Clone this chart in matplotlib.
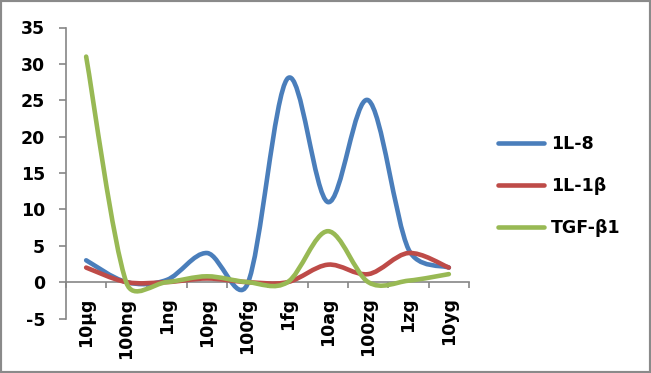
import numpy as np
import matplotlib
matplotlib.use("Agg")
import matplotlib.pyplot as plt
from matplotlib.path import Path
from matplotlib.patches import PathPatch, Rectangle
from matplotlib.lines import Line2D

plt.rcParams["font.family"] = ["DejaVu Sans"]
plt.rcParams["font.weight"] = "bold"
plt.rcParams["axes.unicode_minus"] = False

doses = ["10µg", "100ng", "1ng", "10pg", "100fg", "1fg", "10ag", "100zg", "1zg", "10yg"]
il8 = [3, 0, 0.3, 4, -0.3, 28, 11, 25, 4.5, 2]
il1b = [2, 0, 0, 0.5, 0, 0, 2.4, 1.1, 4, 2]
tgfb1 = [31, -0.1, 0, 0.8, 0, 0, 7, 0, 0.2, 1.1]

series = [("1L-8", il8, "#4a7ebb"), ("1L-1β", il1b, "#be4b48"), ("TGF-β1", tgfb1, "#98b954")]
axis_grey = "#868686"


def smooth_path(ax, xs, ys):
    # excel-ish smoothing: cubic bezier, tangent 1/6 of chord, capped at half segment
    tr = ax.transData
    pts = tr.transform(np.column_stack([xs, ys]).astype(float))
    n = len(pts)
    verts = [pts[0]]
    codes = [Path.MOVETO]
    for i in range(n - 1):
        p0 = pts[max(i - 1, 0)]
        p1 = pts[i]
        p2 = pts[i + 1]
        p3 = pts[min(i + 2, n - 1)]
        half = np.hypot(*(p2 - p1)) / 2
        t1 = (p2 - p0) / 6
        t2 = (p3 - p1) / 6
        if np.hypot(*t1) > half:
            t1 = t1 * half / np.hypot(*t1)
        if np.hypot(*t2) > half:
            t2 = t2 * half / np.hypot(*t2)
        verts += [p1 + t1, p2 - t2, p2]
        codes += [Path.CURVE4] * 3
    verts = tr.inverted().transform(np.array(verts))
    return Path(verts, codes)


fig = plt.figure(figsize=(6.51, 3.73), dpi=100)
ax = fig.add_axes([66 / 651, 1 - 318.5 / 373, 403 / 651, 291 / 373])
ax.set_xlim(-0.5, len(doses) - 0.5)
ax.set_ylim(-5, 35)

x = np.arange(len(doses))
for name, vals, col in series:
    p = smooth_path(ax, x, vals)
    ax.add_patch(PathPatch(p, fill=False, edgecolor=col, lw=3.3,
                           capstyle="round", joinstyle="round", zorder=3))

ax.spines["top"].set_visible(False)
ax.spines["right"].set_visible(False)
ax.spines["bottom"].set_position(("data", 0))
for s in ("left", "bottom"):
    ax.spines[s].set_color(axis_grey)
    ax.spines[s].set_linewidth(1.2)

ax.set_yticks(range(-5, 36, 5))
ax.tick_params(axis="y", direction="out", length=5, width=1.2, color=axis_grey,
               pad=10, labelsize=12.5)
ax.set_xticks(x)
ax.set_xticklabels(doses, rotation=90, va="top", ha="center")
ax.set_xticks(np.arange(-0.5, len(doses), 1), minor=True)
ax.tick_params(axis="x", which="major", length=0, pad=11, labelsize=12.5)
ax.tick_params(axis="x", which="minor", direction="out", length=4, width=1.2,
               color=axis_grey)

handles = [Line2D([], [], color=c, lw=3.3, solid_capstyle="round") for _, _, c in series]
fig.legend(handles, [s[0] for s in series], loc="center left",
           bbox_to_anchor=(498 / 651, 1 - 186 / 373), frameon=False,
           fontsize=12.5, handlelength=2.65, handletextpad=0.4,
           labelspacing=1.38, borderpad=0, borderaxespad=0)

fig.patches.append(Rectangle((0, 0), 1, 1, transform=fig.transFigure, fill=False,
                             edgecolor="#8a8a8a", lw=3, zorder=10))

fig.savefig("out.png", dpi=100)
